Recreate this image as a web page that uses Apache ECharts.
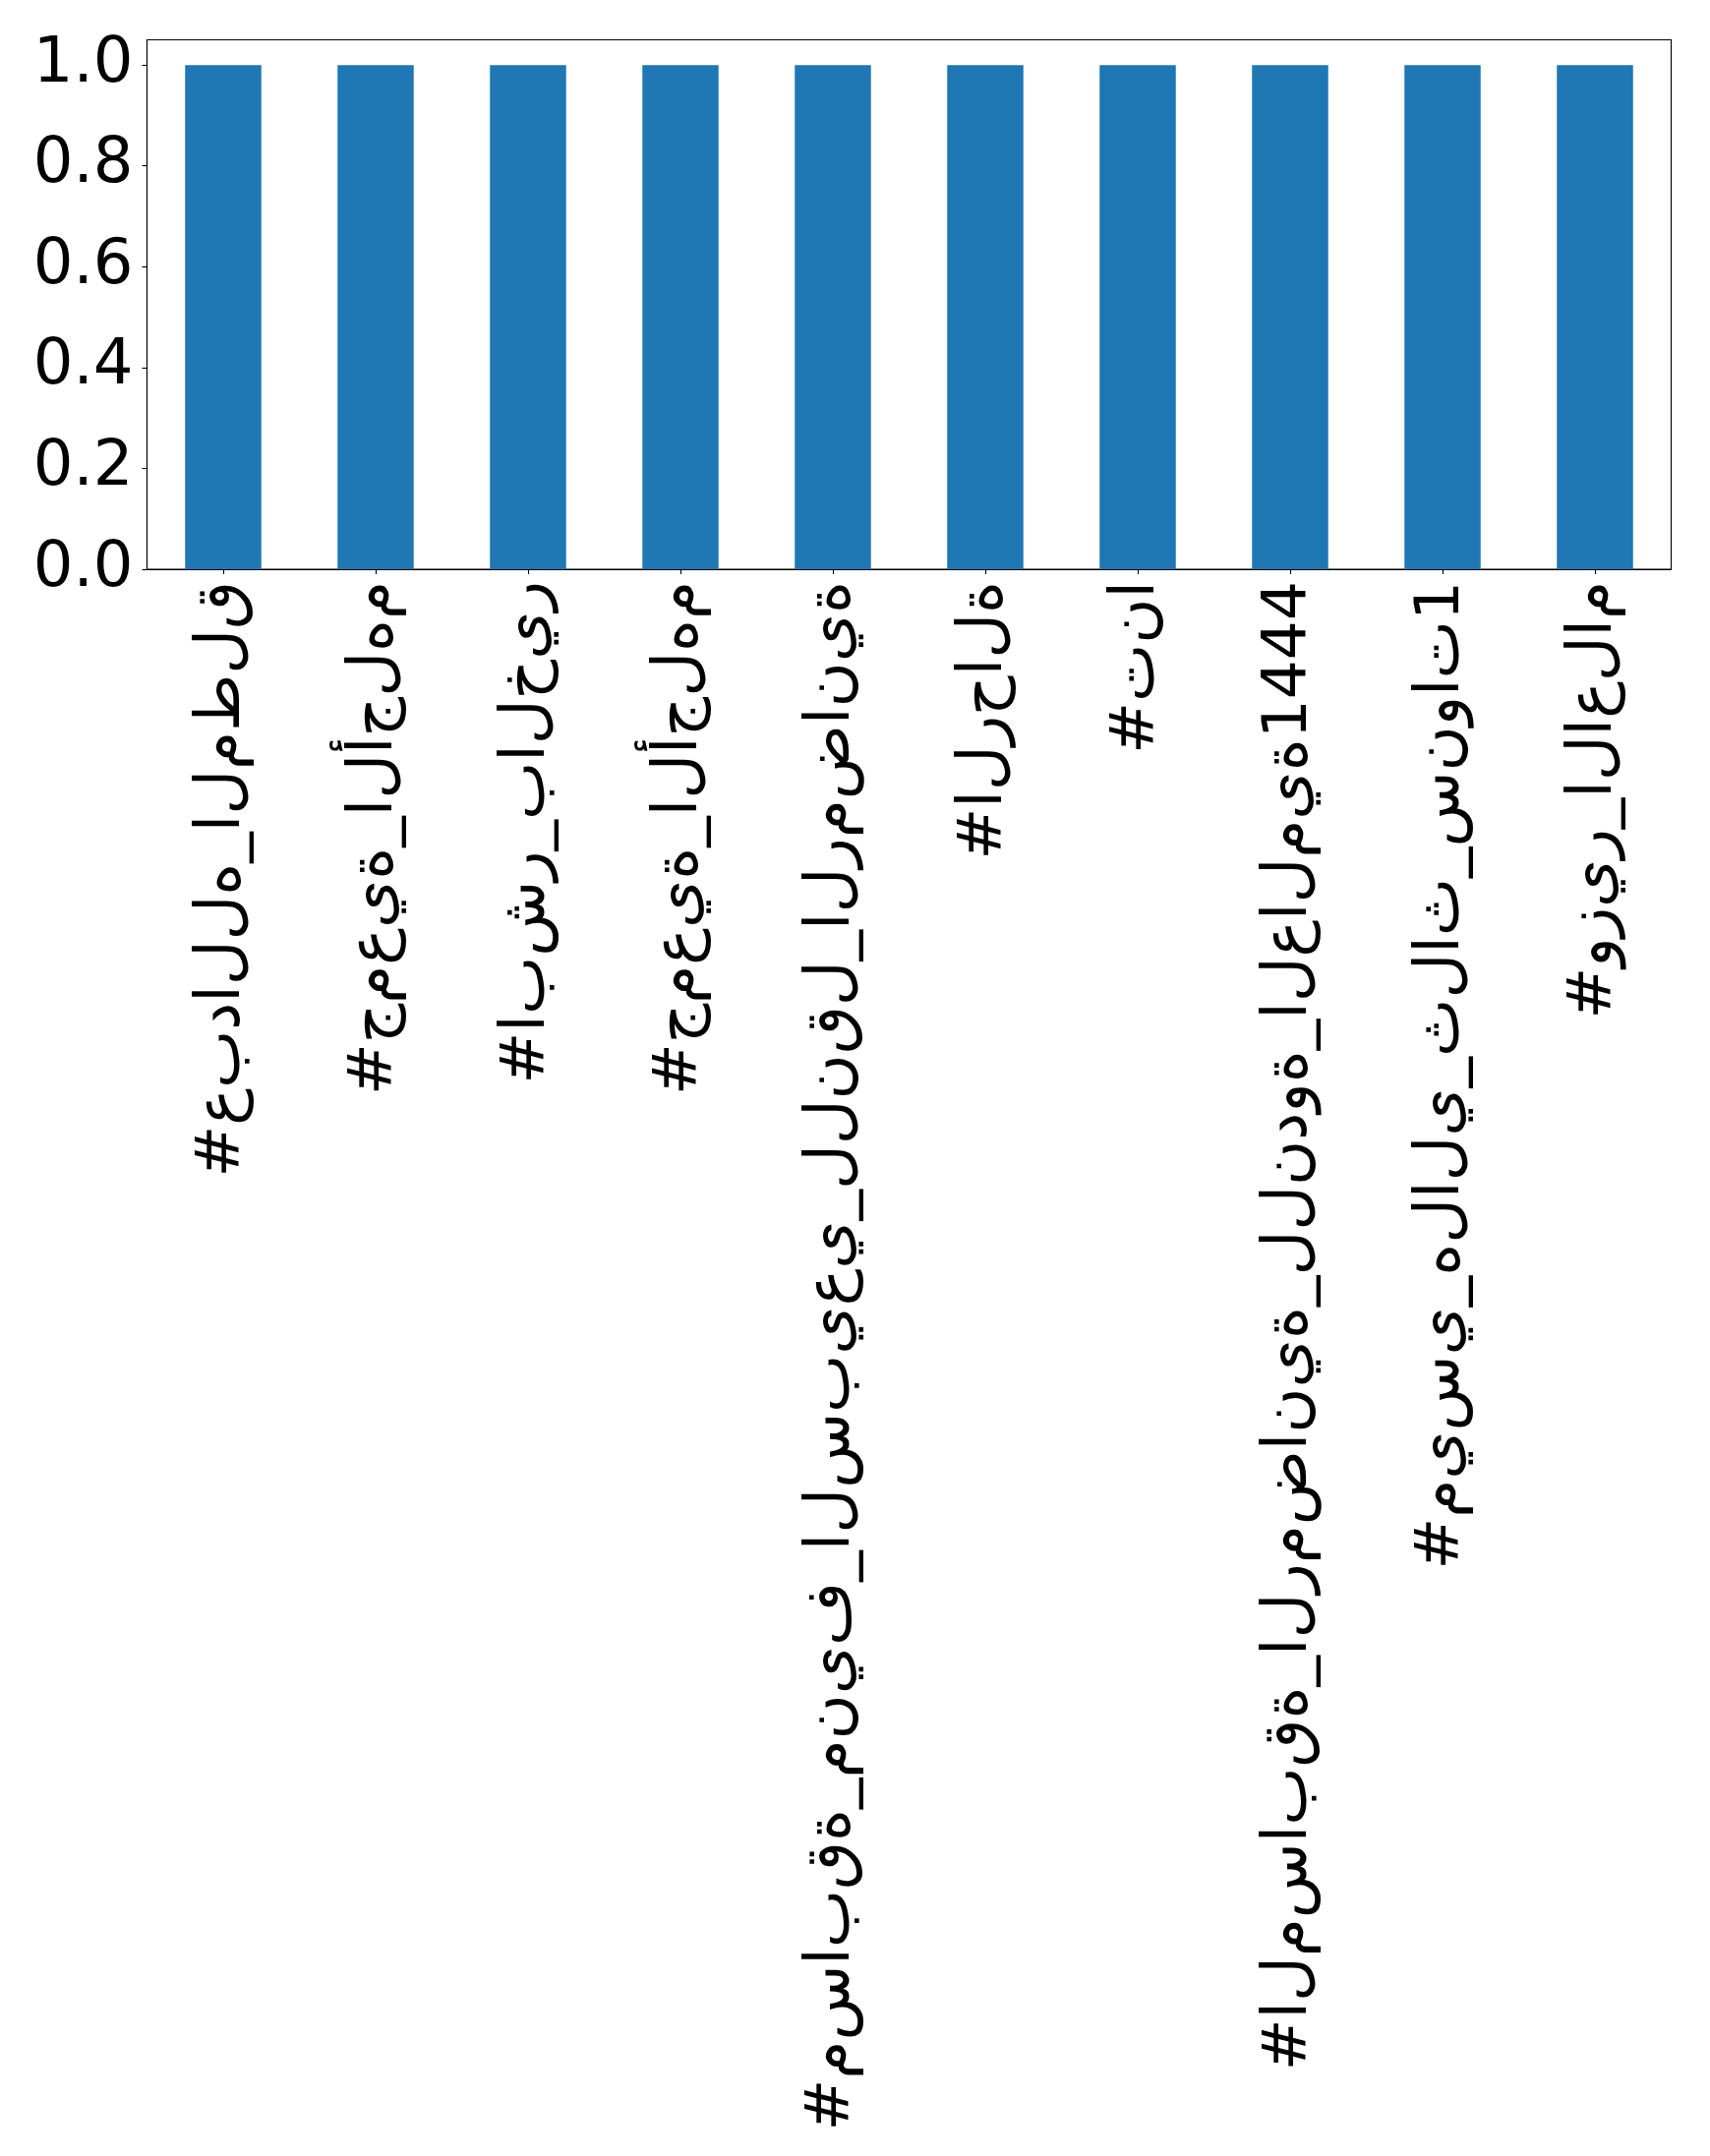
<!DOCTYPE html>
<html>
<head>
<meta charset="utf-8">
<script src="https://cdn.jsdelivr.net/npm/echarts@6/dist/echarts.min.js"></script>
<style>
html,body{margin:0;padding:0;background:#fff;}
#chart{width:1739px;height:2193px;}
</style>
</head>
<body>
<div id="chart"></div>
<script>
const categories = [
  "#عبدالله_المطلق",
  "#جمعية_الأجلهم",
  "#ابشر_بالخير",
  "#جمعية_الأجلهم",
  "#مسابقة_منيف_السبيعي_للنقل_الرمضانية",
  "#الرحالة",
  "#تنا",
  "#المسابقة_الرمضانية_للندوة_العالمية1444",
  "#ميسي_هلالي_ثلاث_سنوات1",
  "#وزير_الاعلام"
];
const values = [1, 1, 1, 1, 1, 1, 1, 1, 1, 1];
const yTicks = [0, 0.2, 0.4, 0.6, 0.8, 1.0];

// matplotlib draws Arabic letters unshaped, left to right
function unshaped(s) {
  return '\u202D' + Array.from(s).join('\u200C') + '\u202C';
}

const chart = echarts.init(document.getElementById('chart'), null, {renderer: 'canvas'});
chart.setOption({
  animation: false,
  backgroundColor: '#ffffff',
  grid: {
    left: 149.5, top: 40.5, right: 39.5, bottom: 1614,
    show: true, borderColor: '#000', borderWidth: 1.1,
    backgroundColor: 'transparent',
    outerBoundsMode: 'none', containLabel: false
  },
  xAxis: {
    type: 'category',
    data: categories,
    boundaryGap: true,
    axisLine: {show: true, lineStyle: {color: '#000', width: 1.1}},
    axisTick: {show: true, alignWithLabel: true, length: 5, lineStyle: {color: '#000', width: 1.1}},
    axisLabel: {
      interval: 0, rotate: 90, margin: 12,
      fontFamily: 'DejaVu Sans', fontSize: 63, color: '#000',
      formatter: function (v) { return unshaped(v); }
    },
    splitLine: {show: false}
  },
  yAxis: {
    type: 'value', min: 0, max: 1.05, interval: 0.2,
    axisLine: {show: true, lineStyle: {color: '#000', width: 1.1}},
    axisTick: {show: true, length: 5, customValues: yTicks, lineStyle: {color: '#000', width: 1.1}},
    axisLabel: {
      margin: 14, fontFamily: 'DejaVu Sans', fontSize: 64, color: '#000',
      customValues: yTicks,
      formatter: function (v) { return v.toFixed(1); }
    },
    splitLine: {show: false}
  },
  series: [{
    type: 'bar',
    data: values,
    barWidth: '50%',
    itemStyle: {color: '#1f77b4'}
  }]
});
</script>
</body>
</html>
